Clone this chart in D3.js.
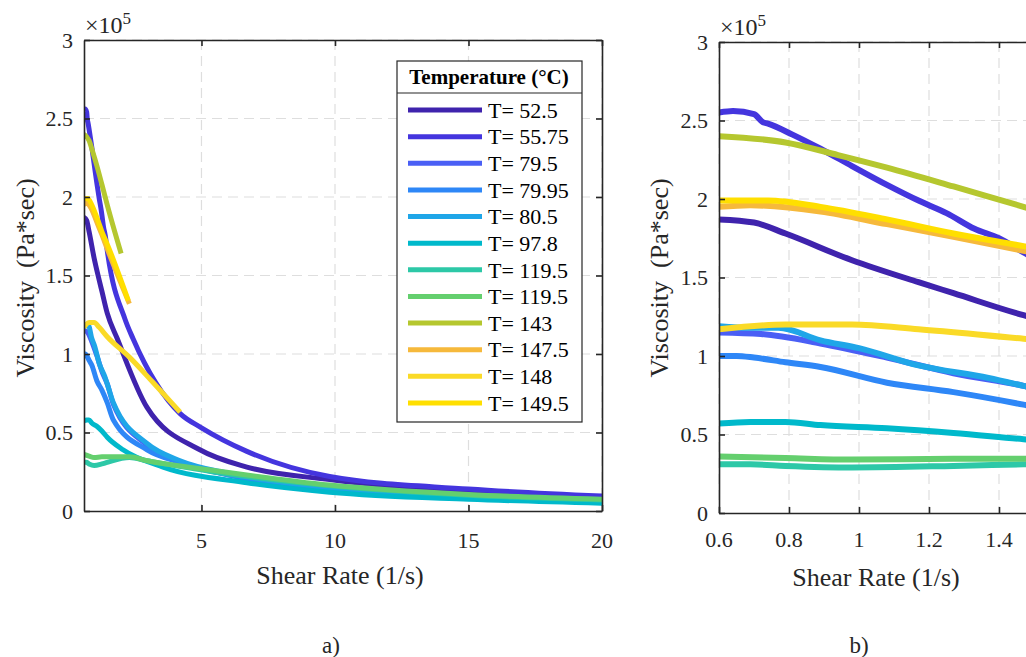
<!DOCTYPE html>
<html>
<head>
<meta charset="utf-8">
<script src="https://cdn.jsdelivr.net/npm/d3@7"></script>
<style>
  body { margin: 0; background: #fff; }
  text { font-family: "Liberation Serif", "Times New Roman", serif; fill: #262626; }
</style>
</head>
<body>
<svg width="1026" height="657"></svg>
<script>
// temperatures (legend) and their colours
var temps = ["52.5", "55.75", "79.5", "79.95", "80.5", "97.8", "119.5", "119.5", "143", "147.5", "148", "149.5"];
var colors = ["#3f23ad", "#4435de", "#4a5ff5", "#2e87f7", "#1fa6e8", "#00b9cb",
              "#2dc8a7", "#64cf6e", "#b5c72f", "#f6b93b", "#fada27", "#ffdf00"];

// [shear rate (1/s), viscosity (x1e5 Pa*sec)]
var t52_5 = [[0.6,1.87],[0.7,1.85],[0.79,1.78],[0.98,1.61],[1.17,1.47],[1.27,1.40],[1.47,1.26],[1.84,1.10],
             [2.96,0.66],[4.94,0.39],[6.7,0.28],[9.8,0.20],[15,0.12],[20,0.08]];
var t55_75 = [[0.6,2.55],[0.64,2.56],[0.7,2.54],[0.725,2.49],[0.74,2.48],[0.81,2.41],[0.89,2.32],[0.98,2.21],
              [1.08,2.09],[1.17,1.99],[1.25,1.91],[1.33,1.81],[1.40,1.75],[1.47,1.66],[2.14,1.22],[2.43,1.10],
              [4.2,0.62],[5.0,0.53],[6.7,0.38],[9.8,0.22],[15,0.14],[20,0.095]];
var t79_5 = [[0.6,1.15],[0.72,1.14],[0.89,1.08],[1.08,0.99],[1.27,0.89],[1.47,0.81],[1.7,0.68],
             [2.96,0.42],[4.2,0.31],[6,0.23],[9.8,0.14],[15,0.09],[20,0.065]];
var t79_95 = [[0.6,1.0],[0.65,1.0],[0.7,0.99],[0.79,0.96],[0.89,0.93],[1.08,0.83],[1.27,0.77],[1.47,0.69],
              [1.7,0.58],[2.96,0.39],[4.2,0.31],[6,0.23],[9.8,0.14],[15,0.09],[20,0.06]];
var t80_5 = [[0.6,1.19],[0.69,1.18],[0.77,1.18],[0.89,1.10],[1.0,1.05],[1.17,0.94],[1.37,0.86],[1.47,0.81],
             [1.7,0.69],[2.96,0.43],[4.2,0.32],[6,0.24],[9.8,0.145],[15,0.09],[20,0.065]];
var t97_8 = [[0.6,0.57],[0.69,0.58],[0.79,0.58],[0.89,0.56],[1.08,0.54],[1.27,0.51],[1.47,0.47],[2.06,0.39],
             [3.56,0.28],[6.7,0.18],[9.8,0.12],[15,0.075],[20,0.05]];
var t119_5a = [[0.6,0.31],[0.69,0.31],[0.79,0.30],[0.98,0.29],[1.27,0.30],[1.47,0.31],[2.3,0.34],[2.96,0.32],
               [5.4,0.25],[9.8,0.16],[15,0.10],[20,0.07]];
var t119_5b = [[0.6,0.36],[0.79,0.35],[0.98,0.34],[1.27,0.345],[1.47,0.345],[2.3,0.345],[2.96,0.32],
               [5.4,0.26],[9.8,0.165],[15,0.105],[20,0.075]];
var t143 = [[0.6,2.40],[0.79,2.36],[0.94,2.28],[1.08,2.20],[1.27,2.08],[1.47,1.95],[1.99,1.64]];
var t147_5 = [[0.6,1.95],[0.69,1.96],[0.89,1.92],[1.08,1.84],[1.27,1.76],[1.47,1.67],[2.3,1.32]];
var t148 = [[0.6,1.17],[0.79,1.20],[0.98,1.20],[1.17,1.17],[1.47,1.11],[2.3,0.98],[3.18,0.82],[4.2,0.63]];
var t149_5 = [[0.6,1.99],[0.74,1.99],[0.89,1.95],[1.08,1.87],[1.27,1.78],[1.47,1.70],[2.26,1.34]];

var series = [t52_5, t55_75, t79_5, t79_95, t80_5, t97_8, t119_5a, t119_5b, t143, t147_5, t148, t149_5];

var yTicks = [0, 0.5, 1, 1.5, 2, 2.5, 3];
var xTicksA = [5, 10, 15, 20];
var xTicksB = [0.6, 0.8, 1, 1.2, 1.4, 1.6, 1.8, 2];

var svg = d3.select("svg");
var axisColor = "#262626",
    serif = "'Liberation Serif', 'Times New Roman', serif",
    W = +svg.attr("width");

function panel(o) {
  var x = d3.scaleLinear().domain(o.xDomain).range([o.left, o.right]),
      y = d3.scaleLinear().domain([0, 3]).range([o.bottom, o.top]);
  var g = svg.append("g").attr("font-family", serif);

  g.append("clipPath").attr("id", o.id)
    .append("rect").attr("x", o.left).attr("y", o.top)
    .attr("width", o.right - o.left).attr("height", o.bottom - o.top);

  // dashed grid
  var grid = g.append("g").attr("stroke", "#dedede").attr("stroke-width", 1.2)
    .attr("stroke-dasharray", "10,6");
  grid.selectAll(".gx").data(o.xTicks).enter().append("line")
    .attr("x1", d => x(d)).attr("x2", d => x(d))
    .attr("y1", o.top).attr("y2", o.bottom);
  grid.selectAll(".gy").data(yTicks.slice(1)).enter().append("line")
    .attr("x1", o.left).attr("x2", o.right)
    .attr("y1", d => y(d)).attr("y2", d => y(d));

  // curves
  var line = d3.line().x(d => x(d[0])).y(d => y(d[1])).curve(d3.curveMonotoneX);
  g.append("g").attr("clip-path", "url(#" + o.id + ")")
    .selectAll("path").data(series).enter().append("path")
    .attr("d", line)
    .attr("fill", "none")
    .attr("stroke", (d, i) => colors[i])
    .attr("stroke-width", o.lw)
    .attr("stroke-linejoin", "round");

  // axes (ticks inside, box on)
  var ax = [
    [d3.axisBottom(x).tickValues(o.xTicks).tickSizeInner(-6).tickSizeOuter(0).tickFormat(""), "translate(0," + o.bottom + ")"],
    [d3.axisTop(x).tickValues(o.xTicks).tickSizeInner(-6).tickSizeOuter(0).tickFormat(""), "translate(0," + o.top + ")"],
    [d3.axisLeft(y).tickValues(yTicks).tickSizeInner(-6).tickSizeOuter(0).tickFormat(""), "translate(" + o.left + ",0)"],
    [d3.axisRight(y).tickValues(yTicks).tickSizeInner(-6).tickSizeOuter(0).tickFormat(""), "translate(" + o.right + ",0)"]
  ];
  ax.forEach(function(a) {
    var s = g.append("g").attr("transform", a[1]).call(a[0]);
    s.selectAll("path,line").attr("stroke", axisColor).attr("stroke-width", 1.6);
    s.selectAll("text").remove();
  });

  // tick labels (only those inside the window)
  g.selectAll(".yl").data(yTicks).enter().append("text")
    .attr("x", o.left - 11).attr("y", d => y(d)).attr("dy", "0.35em")
    .attr("text-anchor", "end").style("font-size", "22px")
    .text(d => String(d));
  g.selectAll(".xl").data(o.xTicks.filter(d => x(d) < W - 20)).enter().append("text")
    .attr("x", d => x(d)).attr("y", o.bottom + o.xlDy)
    .attr("text-anchor", "middle").style("font-size", "22px")
    .text(d => String(d));

  // exponent
  var ex = g.append("text").attr("x", o.left + 1).attr("y", o.top - 7).style("font-size", "24px");
  ex.append("tspan").text("\u00d710");
  ex.append("tspan").attr("dy", "-9").style("font-size", "17px").text("5");

  // axis labels
  g.append("text").attr("x", o.xlabX).attr("y", o.bottom + 73)
    .attr("text-anchor", "middle").style("font-size", "26px")
    .text("Shear Rate (1/s)");
  g.append("text")
    .attr("transform", "translate(" + o.ylabX + "," + 278 + ") rotate(-90)")
    .attr("text-anchor", "middle").style("font-size", "26px")
    .attr("xml:space", "preserve")
    .text("Viscosity  (Pa*sec)");

  g.append("text").attr("x", o.tagX).attr("y", 653)
    .attr("text-anchor", "middle").style("font-size", "23px").text(o.tag);
  return g;
}

panel({id: "clipA", left: 84, right: 602, top: 40, bottom: 511, xDomain: [0.6, 20], xTicks: xTicksA,
       lw: 5, xlDy: 37, xlabX: 340, ylabX: 34, tagX: 331, tag: "a)"});
panel({id: "clipB", left: 719, right: 1209, top: 42, bottom: 513, xDomain: [0.6, 2], xTicks: xTicksB,
       lw: 6, xlDy: 34, xlabX: 876, ylabX: 668, tagX: 859, tag: "b)"});

// legend
var lg = svg.append("g").attr("font-family", serif);
lg.append("rect").attr("x", 397).attr("y", 61).attr("width", 185).attr("height", 361)
  .attr("fill", "#fff").attr("stroke", axisColor).attr("stroke-width", 1.2);
lg.append("line").attr("x1", 397).attr("x2", 582).attr("y1", 93).attr("y2", 93)
  .attr("stroke", axisColor).attr("stroke-width", 1.2);
lg.append("text").attr("x", 489).attr("y", 84).attr("text-anchor", "middle")
  .style("font-size", "21px").style("font-weight", "bold").style("fill", "#000")
  .text("Temperature (\u00b0C)");
var ly = d3.scaleLinear().domain([0, temps.length - 1]).range([110, 403]);
var items = lg.selectAll(".it").data(temps).enter().append("g")
  .attr("transform", (d, i) => "translate(0," + ly(i) + ")");
items.append("line").attr("x1", 408).attr("x2", 482).attr("y1", 0).attr("y2", 0)
  .attr("stroke", (d, i) => colors[i]).attr("stroke-width", 5);
items.append("text").attr("x", 488).attr("y", 0).attr("dy", "0.35em")
  .style("font-size", "22px").style("fill", "#000")
  .text(d => "T= " + d);
</script>
</body>
</html>
